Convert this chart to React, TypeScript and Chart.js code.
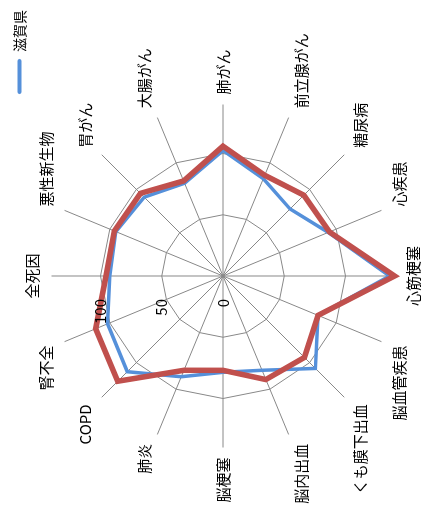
import { useEffect, useRef } from 'react';
import { Chart, registerables } from 'chart.js';

Chart.register(...registerables);

// ---- data ----
const CATEGORIES = [
  '全死因', '悪性新生物', '胃がん', '大腸がん', '肺がん', '前立腺がん', '糖尿病', '心疾患',
  '心筋梗塞', '脳血管疾患', 'くも膜下出血', '脳内出血', '脳梗塞', '肺炎', 'COPD', '腎不全',
];
const SHIGA = [92.5, 94.7, 91, 82, 102.5, 86, 77.4, 93, 136, 84, 106.7, 83.3, 78.6, 89, 110.5, 102];
const COMPARE = [95.5, 96, 95.4, 84, 106, 89, 93.3, 94, 140, 84, 94, 91.5, 77, 83.3, 121.5, 112.5];
const TICK_VALUES = [0, 50, 100];
const AXIS_MAX = 140;

// ---- layout / style ----
const W = 505; // chart drawn unrotated, then turned 90° counter-clockwise
const H = 421;
const CX = 229;
const CY = 223;
const RADIUS = 171.5;
const BLUE = '#5590DA';
const RED = '#C0504D';
const GRID = '#888888';
const TEXT = '#000000';
const FONT = '"Noto Sans CJK JP", "Noto Sans", sans-serif';

const sideTicks = {
  id: 'sideTicks',
  afterDatasetsDraw(chart: any) {
    const s = chart.scales.r;
    const ctx = chart.ctx;
    ctx.save();
    ctx.font = `15px ${FONT}`;
    ctx.fillStyle = TEXT;
    ctx.textAlign = 'right';
    ctx.textBaseline = 'middle';
    s.ticks.forEach((t: any) => {
      const d = s.getDistanceFromCenterForValue(t.value);
      ctx.fillText(String(t.value), s.xCenter - 23, s.yCenter - d);
    });
    ctx.restore();
  },
};

export default function App() {
  const ref = useRef<HTMLCanvasElement>(null);
  useEffect(() => {
    const chart = new Chart(ref.current as HTMLCanvasElement, {
      type: 'radar',
      data: {
        labels: CATEGORIES,
        datasets: [
          {
            label: '全国',
            data: COMPARE,
            borderColor: RED,
            backgroundColor: RED,
            borderWidth: 5.5,
            pointRadius: 0,
            pointHoverRadius: 0,
            fill: false,
            order: 0,
            clip: false,
          } as any,
          {
            label: '滋賀県',
            data: SHIGA,
            borderColor: BLUE,
            backgroundColor: BLUE,
            borderWidth: 3.5,
            pointRadius: 0,
            pointHoverRadius: 0,
            fill: false,
            order: 1,
            clip: false,
          } as any,
        ],
      },
      options: {
        responsive: false,
        animation: false,
        devicePixelRatio: 1,
        layout: { padding: { top: 2.5 } },
        elements: { line: { tension: 0, borderJoinStyle: 'miter' } },
        plugins: {
          tooltip: { enabled: false },
          legend: {
            position: 'top',
            align: 'end',
            labels: {
              boxWidth: 35,
              boxHeight: 4,
              padding: 10,
              color: TEXT,
              font: { family: FONT, size: 14 },
              generateLabels: (c: any) =>
                (Chart.defaults.plugins.legend.labels as any)
                  .generateLabels(c)
                  .filter((l: any) => l.text === '滋賀県')
                  .map((l: any) => ({ ...l, lineWidth: 0, fillStyle: BLUE, borderRadius: 2 })),
            },
          },
        },
        scales: {
          r: {
            min: 0,
            max: AXIS_MAX,
            startAngle: 0,
            ticks: { display: false, stepSize: 50, includeBounds: false },
            afterBuildTicks: (s: any) => {
              s.ticks = TICK_VALUES.map((v) => ({ value: v }));
            },
            afterFit: (s: any) => {
              const saved = { left: s.left, right: s.right, top: s.top, bottom: s.bottom };
              s.xCenter = CX;
              s.yCenter = CY;
              s.drawingArea = RADIUS;
              s.left = -10000;
              s.right = 10000;
              s.top = -10000;
              s.bottom = 10000;
              s.fit();
              Object.assign(s, saved);
            },
            grid: { color: GRID, lineWidth: 1, circular: false },
            angleLines: { color: GRID, lineWidth: 1 },
            pointLabels: {
              color: TEXT,
              padding: 10,
              font: { family: FONT, size: 15 },
            },
          } as any,
        },
      },
      plugins: [sideTicks],
    });
    return () => chart.destroy();
  }, []);

  return (
    <div
      style={{
        position: 'fixed',
        left: 0,
        top: 0,
        width: W,
        height: H,
        background: '#fff',
        transformOrigin: '0 0',
        transform: `translateY(${W}px) rotate(-90deg)`,
      }}
    >
      <canvas ref={ref} width={W} height={H} style={{ display: 'block', width: W, height: H }} />
    </div>
  );
}
